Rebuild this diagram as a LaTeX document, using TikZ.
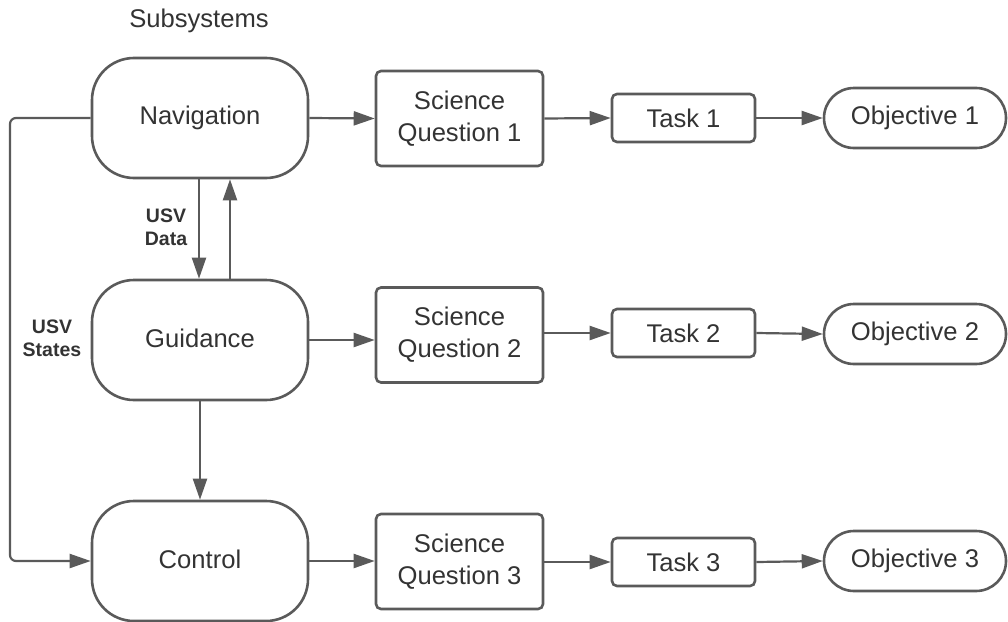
\documentclass[tikz,border=0pt]{standalone}
\usepackage{fontspec}
\setmainfont{Liberation Sans}
\usetikzlibrary{arrows.meta}
\definecolor{lc}{HTML}{5A5A5A}
\definecolor{tc}{HTML}{333333}
\tikzset{
  base/.style={draw=lc, line width=2.6pt, text=tc, inner sep=0pt, align=center,
    font=\fontsize{25.6}{32}\selectfont},
  subsys/.style={base, minimum width=216pt, minimum height=120pt, rounded corners=42pt},
  sq/.style={base, minimum width=167pt, minimum height=95pt, rounded corners=5pt},
  task/.style={base, minimum width=143pt, minimum height=48pt, rounded corners=5pt},
  obj/.style={base, minimum width=182pt, minimum height=60pt, rounded corners=30pt},
  conn/.style={draw=lc, line width=2.2pt, -{Triangle[length=21pt,width=14pt]}},
  lbl/.style={text=tc, inner sep=0pt, align=center, font=\bfseries\fontsize{19.5}{23}\selectfont},
  ttl/.style={text=tc, inner sep=0pt, font=\fontsize{25.6}{32}\selectfont}
}
\begin{document}
\begin{tikzpicture}[x=1pt,y=-1pt]
\useasboundingbox (0,0) rectangle (1008,621);
\node[ttl] (title) at (199,21) {Subsystems};
% subsystems
\node[subsys] (nav) at (200,118) {\raisebox{3pt}{Navigation}};
\node[subsys] (guid) at (200,340) {\raisebox{3pt}{Guidance}};
\node[subsys] (ctrl) at (200,561) {\raisebox{3pt}{Control}};
% science questions
\node[sq] (sq1) at (459.5,118.5) {Science\\Question 1};
\node[sq] (sq2) at (459.5,335) {Science\\Question 2};
\node[sq] (sq3) at (459.5,561.5) {Science\\Question 3};
% tasks
\node[task] (t1) at (683.5,118) {Task 1};
\node[task] (t2) at (683.5,333) {Task 2};
\node[task] (t3) at (683.5,562) {Task 3};
% objectives
\node[obj] (o1) at (915,118) {Objective 1};
\node[obj] (o2) at (915,334) {Objective 2};
\node[obj] (o3) at (915,561) {Objective 3};
% row connectors
\draw[conn] (nav.east) -- (sq1.west);
\draw[conn] (sq1.east) -- (t1.west);
\draw[conn] (t1.east) -- (o1.west);
\draw[conn] (guid.east) -- (guid.east -| sq2.west);
\draw[conn] (sq2.east |- t2.west) -- (t2.west);
\draw[conn] (t2.east) -- (o2.west);
\draw[conn] (ctrl.east) -- (ctrl.east -| sq3.west);
\draw[conn] (sq3.east |- t3.west) -- (t3.west);
\draw[conn] (t3.east) -- (o3.west);
% vertical connectors
\draw[conn] ([xshift=-1pt]nav.south) -- ([xshift=-1pt]guid.north);
\draw[conn] ([xshift=30pt]guid.north) -- ([xshift=30pt]nav.south);
\draw[conn] (guid.south) -- (ctrl.north);
% feedback
\coordinate (fbtop) at (10,118);
\coordinate (fbbot) at (10,561);
\draw[conn, rounded corners=6pt] (nav.west) -- (fbtop) -- (fbbot) -- (ctrl.west);
% labels
\node[lbl] (usvdata) at (166,227) {USV\\Data};
\node[lbl] (usvstates) at (52,338) {USV\\States};
\end{tikzpicture}
\end{document}
